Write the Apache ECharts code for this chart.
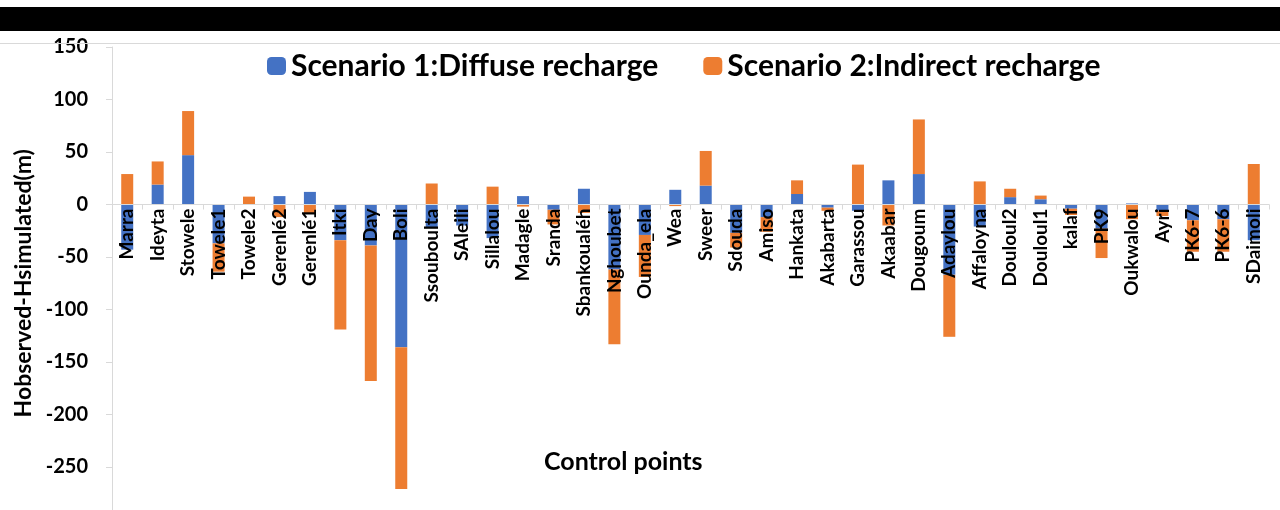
<!DOCTYPE html>
<html>
<head>
<meta charset="utf-8">
<script src="https://cdn.jsdelivr.net/npm/echarts@6/dist/echarts.min.js"></script>
<style>html,body{margin:0;padding:0;background:#fff;}#c{width:1280px;height:510px;}</style>
</head>
<body>
<div id="c"></div>
<script>
const categories = ["Marra","Ideyta","Stowele","Towele1","Towele2","Gerenlé2","Gerenlé1","Itki","Day","Boli","Ssouboulta","SAleili","Sillalou","Madagle","Sranda","Sbankoualéh","Nghoubet","Ounda_ela","Wea","Sweer","Sdouda","Amiso","Hankata","Akabarta","Garassou","Akaabar","Dougoum","Adaylou","Affaloyna","Douloul2","Douloul1","kalaf","PK9","Oukwalou","Ayri","PK6-7","PK6-6","SDaimoli"];
const scenario1 = [-43,19,47,-37,0,8,12,-34,-39,-136,-22,-20,-32,8,-5,15,-62,-29,14,18,-27,-12,10,-3,-6,23,29,-67,-21,7,5,-4,-23,1,-6,-15,-14,-34];
const scenario2 = [29,22,42,-27,7.5,-12,-9,-85,-129,-135,20,0,17,-2,-14,-8,-71,-40,-1.5,33,-14,-14,13,-3,38,-20,52,-59,22,8,3.5,-6,-28,-14,-5,-30,-31,38.6];
const seriesNames = ["Scenario 1:Diffuse recharge","Scenario 2:Indirect recharge"];
const yTitle = "Hobserved-Hsimulated(m)";
const xTitle = "Control points";

const FONT = "Lato";
const Y_MIN = -300, Y_MAX = 150;
const GRID_TOP = 47, GRID_H = 472.5;
const zeroOffset = GRID_H * (0 - Y_MIN) / (Y_MAX - Y_MIN);

const chart = echarts.init(document.getElementById('c'), null, {renderer:'canvas'});
chart.setOption({
  animation:false,
  backgroundColor:'#fff',
  textStyle:{fontFamily:FONT},
  graphic:[
    {type:'rect', shape:{x:0,y:7,width:1280,height:24}, style:{fill:'#000'}, z:100},
    {type:'line', shape:{x1:0,y1:43.5,x2:1280,y2:43.5}, style:{stroke:'#d9d9d9',lineWidth:1}, z:100}
  ],
  title:{text:xTitle, left:539, top:444, textStyle:{fontFamily:FONT,fontWeight:'bold',fontSize:25,color:'#000'}},
  legend:{
    left:262, top:46, itemWidth:19, itemHeight:18, itemGap:45,
    textStyle:{fontFamily:FONT,fontWeight:'bold',fontSize:30,color:'#000'},
    data:seriesNames
  },
  grid:{left:112, right:11, top:GRID_TOP, height:GRID_H, containLabel:false, outerBoundsMode:'none'},
  xAxis:{
    type:'category', data:categories, z:10, position:'bottom', offset:-zeroOffset,
    axisLine:{onZero:false,lineStyle:{color:'#d9d9d9',width:1}},
    axisTick:{show:true,length:5,lineStyle:{color:'#d9d9d9'}},
    axisLabel:{rotate:90, interval:0, margin:4, fontFamily:FONT, fontWeight:'bold', fontSize:19, color:'#000'},
    splitLine:{show:false}
  },
  yAxis:{
    type:'value', min:Y_MIN, max:Y_MAX, interval:50,
    name:yTitle, nameLocation:'middle', nameRotate:90, nameGap:77,
    nameTextStyle:{fontFamily:FONT,fontWeight:'bold',fontSize:23,color:'#000'},
    axisLine:{show:true,lineStyle:{color:'#d9d9d9'}},
    axisTick:{show:true,length:6,lineStyle:{color:'#d9d9d9'}},
    axisLabel:{margin:24, fontFamily:FONT, fontWeight:'bold', fontSize:20, color:'#000',
      formatter:function(v){return v<=Y_MIN?'':String(v);}},
    splitLine:{show:false}
  },
  series:[
    {name:seriesNames[0], type:'bar', stack:'t', data:scenario1, barWidth:12, itemStyle:{color:'#4472C4'}},
    {name:seriesNames[1], type:'bar', stack:'t', data:scenario2, barWidth:12, itemStyle:{color:'#ED7D31'}}
  ]
});
</script>
</body>
</html>
